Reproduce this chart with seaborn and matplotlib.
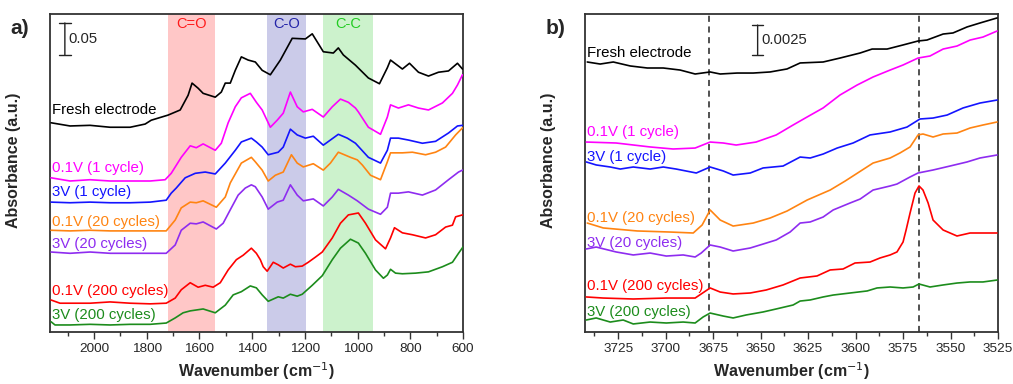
import matplotlib
matplotlib.use('Agg')
import pandas as pd
import matplotlib.pyplot as plt
import matplotlib.transforms as mtransforms
import seaborn as sns
from matplotlib.ticker import MultipleLocator

# ---------------- panel a) 2170-600 cm-1, stacked spectra in mAbs ----------------
fresh_a_wn = [2163, 2091, 2015, 1939, 1863, 1806, 1783, 1719, 1673, 1643, 1628, 1605, 1586, 1540, 1517,
              1502, 1483, 1464, 1441, 1415, 1388, 1362, 1331, 1293, 1248, 1198, 1172, 1130, 1092, 1073,
              1054, 1008, 959, 917, 887, 875, 830, 803, 769, 731, 693, 655, 621, 602]
fresh_a = [327, 322, 323, 320, 320, 325, 331, 339, 347, 370, 389, 381, 373, 367, 375,
           389, 389, 409, 430, 425, 422, 409, 402, 425, 459, 458, 466, 438, 436, 444,
           433, 417, 397, 388, 413, 425, 411, 420, 406, 400, 406, 408, 420, 411]

v01_1_a_wn = [2163, 2091, 2015, 1939, 1863, 1787, 1730, 1707, 1669, 1635, 1612, 1586, 1540, 1517, 1491,
              1464, 1441, 1407, 1384, 1362, 1331, 1305, 1282, 1255, 1229, 1206, 1172, 1130, 1096, 1065,
              1035, 1008, 997, 959, 913, 887, 875, 845, 807, 769, 731, 678, 640, 621, 602]
v01_1_a = [241, 236, 238, 236, 236, 236, 238, 248, 273, 291, 288, 294, 284, 295, 327,
           352, 366, 373, 359, 347, 320, 331, 342, 375, 352, 344, 348, 336, 352, 364,
           359, 350, 344, 320, 309, 336, 355, 350, 355, 350, 347, 358, 373, 386, 402]

v3_1_a_wn = [2163, 2091, 2015, 1939, 1863, 1787, 1726, 1707, 1688, 1669, 1654, 1616, 1578, 1540, 1502,
             1464, 1441, 1403, 1384, 1362, 1339, 1301, 1282, 1255, 1229, 1198, 1168, 1130, 1073, 1039,
             1008, 959, 913, 887, 875, 845, 807, 754, 704, 655, 621, 602]
v3_1_a = [203, 202, 203, 202, 202, 203, 206, 217, 225, 234, 241, 248, 250, 247, 264,
          284, 297, 303, 297, 289, 277, 281, 289, 317, 308, 303, 306, 292, 309, 303,
          295, 273, 264, 284, 303, 303, 300, 295, 298, 311, 322, 323]

v01_20_a_wn = [2163, 2091, 2015, 1939, 1863, 1787, 1726, 1692, 1669, 1635, 1612, 1586, 1536, 1502, 1483,
               1460, 1441, 1403, 1388, 1362, 1339, 1312, 1282, 1251, 1229, 1206, 1168, 1130, 1103, 1073,
               1027, 1001, 982, 951, 913, 887, 875, 830, 792, 742, 704, 666, 628, 602]
v01_20_a = [159, 158, 159, 158, 158, 158, 158, 175, 194, 203, 202, 205, 195, 211, 233,
            250, 264, 273, 266, 253, 236, 245, 250, 277, 264, 258, 263, 253, 264, 281,
            273, 269, 261, 245, 238, 266, 280, 280, 281, 277, 281, 289, 308, 319]

v3_20_a_wn = [2163, 2091, 2015, 1939, 1863, 1787, 1726, 1692, 1669, 1635, 1612, 1586, 1536, 1510, 1483,
              1453, 1426, 1403, 1388, 1362, 1339, 1305, 1282, 1255, 1229, 1206, 1168, 1130, 1096, 1073,
              1035, 1001, 959, 913, 887, 875, 845, 807, 754, 704, 655, 617, 602]
v3_20_a = [125, 123, 125, 123, 123, 123, 123, 136, 159, 170, 169, 172, 161, 170, 191,
           214, 225, 230, 227, 211, 192, 203, 206, 230, 214, 205, 208, 197, 211, 223,
           214, 205, 192, 184, 195, 217, 217, 219, 214, 222, 238, 250, 253]

v01_200_a_wn = [2163, 2129, 2015, 1939, 1863, 1787, 1726, 1692, 1669, 1635, 1605, 1578, 1548, 1521, 1491,
                1460, 1434, 1403, 1384, 1369, 1358, 1343, 1320, 1301, 1282, 1255, 1236, 1210, 1187, 1160,
                1134, 1096, 1065, 1035, 997, 970, 932, 894, 875, 860, 830, 792, 742, 704, 666, 640, 628, 602]
v01_200_a = [50, 45, 45, 47, 45, 44, 45, 53, 66, 77, 70, 73, 70, 77, 97,
             113, 120, 131, 123, 113, 102, 95, 109, 105, 100, 106, 102, 103, 109, 117,
             125, 147, 170, 183, 186, 170, 144, 130, 147, 163, 155, 152, 147, 152, 164, 167, 180, 183]

v3_200_a_wn = [2163, 2148, 2091, 2015, 1939, 1863, 1787, 1726, 1692, 1662, 1635, 1586, 1540, 1502, 1472,
               1441, 1407, 1384, 1362, 1339, 1301, 1282, 1255, 1229, 1210, 1172, 1134, 1096, 1065, 1027,
               997, 970, 932, 902, 887, 875, 856, 830, 780, 731, 678, 640, 617, 598]
v3_200_a = [16, 11, 11, 12, 11, 12, 12, 14, 22, 30, 33, 36, 30, 42, 58,
            63, 72, 69, 58, 48, 55, 53, 59, 56, 59, 73, 88, 113, 131, 145,
            139, 123, 97, 84, 89, 98, 92, 91, 92, 94, 102, 109, 123, 134]

# ---------------- panel b) 3745-3525 cm-1, stacked spectra in mAbs ----------------
fresh_b_wn = [3741.3, 3734.5, 3727.6, 3718.7, 3709.7, 3701.3, 3692.4, 3684.5, 3676.6, 3671.3,
              3662.4, 3653.9, 3645.0, 3636.1, 3629.2, 3617.1, 3608.2, 3597.6, 3591.3, 3583.4,
              3575.0, 3567.1, 3562.4, 3553.9, 3548.7, 3541.3, 3534.5, 3525.5]
fresh_b = [22.5, 22.33, 22.5, 22.17, 22.0, 22.0, 21.83, 21.5, 21.67, 21.5,
           21.58, 21.58, 21.67, 21.92, 22.42, 22.5, 22.83, 23.25, 23.58, 23.58,
           23.92, 24.25, 24.33, 24.83, 24.92, 25.42, 25.75, 26.17]

v01_1_b_wn = [3741.8, 3726.1, 3708.2, 3696.1, 3684.5, 3676.6, 3669.7, 3662.9, 3652.4, 3641.8,
              3632.9, 3625.5, 3617.1, 3608.2, 3599.2, 3590.8, 3581.8, 3575.0, 3567.1, 3560.8,
              3553.9, 3546.6, 3539.7, 3532.9, 3525.5]
v01_1_b = [15.83, 15.75, 15.42, 15.25, 15.33, 15.83, 15.75, 15.58, 15.83, 16.42,
           17.25, 17.92, 18.67, 19.75, 20.58, 21.25, 21.83, 22.25, 22.83, 23.0,
           23.58, 23.83, 24.33, 24.58, 25.08]

v3_1_b_wn = [3741.8, 3736.6, 3729.2, 3723.9, 3717.1, 3708.2, 3701.3, 3694.5, 3683.9, 3676.6,
             3669.7, 3664.5, 3655.5, 3648.7, 3638.2, 3629.2, 3623.9, 3617.1, 3609.7, 3601.3,
             3592.4, 3581.8, 3572.9, 3566.1, 3559.2, 3551.8, 3543.4, 3534.5, 3525.5]
v3_1_b = [14.17, 13.92, 13.75, 13.58, 13.75, 13.58, 13.75, 13.58, 13.25, 13.75,
          13.42, 13.08, 13.25, 13.67, 13.83, 14.58, 14.5, 14.83, 15.33, 15.75,
          16.42, 16.67, 17.08, 17.75, 17.83, 18.08, 18.67, 19.08, 19.33]

v01_20_b_wn = [3741.3, 3732.9, 3715.0, 3697.6, 3685.5, 3680.8, 3676.6, 3671.3, 3664.5, 3653.9,
               3645.0, 3636.1, 3625.5, 3613.4, 3605.5, 3590.8, 3581.8, 3576.6, 3571.3, 3567.1,
               3564.5, 3559.2, 3553.9, 3546.6, 3539.7, 3532.9, 3525.5]
v01_20_b = [9.08, 8.67, 8.42, 8.33, 8.25, 8.92, 10.17, 9.33, 8.83, 9.08,
            9.5, 10.08, 11.0, 11.83, 12.58, 14.08, 14.5, 14.92, 15.42, 16.42,
            16.5, 16.25, 16.5, 16.58, 17.0, 17.25, 17.5]

v3_20_b_wn = [3741.8, 3736.6, 3726.1, 3717.1, 3708.2, 3699.7, 3690.8, 3684.5, 3681.3, 3676.6,
              3671.3, 3664.5, 3655.5, 3648.7, 3641.8, 3634.5, 3629.2, 3623.9, 3617.1, 3611.8,
              3602.9, 3597.6, 3590.8, 3581.8, 3578.2, 3571.3, 3567.1, 3559.2, 3550.3, 3541.3,
              3534.5, 3525.5]
v3_20_b = [6.92, 7.08, 6.67, 6.42, 6.58, 6.33, 6.42, 6.25, 6.58, 7.25,
           7.08, 6.75, 7.0, 7.33, 7.67, 8.33, 9.08, 9.17, 9.58, 10.17,
           10.75, 11.08, 11.83, 12.17, 12.33, 12.92, 13.25, 13.5, 13.83, 14.17,
           14.5, 14.75]

v01_200_b_wn = [3741.8, 3732.9, 3717.1, 3699.7, 3684.5, 3681.3, 3676.6, 3671.3, 3664.5, 3655.5,
                3647.1, 3638.2, 3629.2, 3620.3, 3613.4, 3606.6, 3600.3, 3592.4, 3587.1, 3581.8,
                3578.2, 3575.0, 3573.4, 3571.3, 3568.7, 3566.6, 3564.5, 3561.8, 3559.2, 3553.9,
                3546.6, 3539.7, 3532.9, 3525.5]
v01_200_b = [2.92, 2.83, 2.75, 2.83, 2.83, 3.17, 3.67, 3.33, 3.17, 3.25,
             3.5, 3.92, 4.5, 4.67, 5.17, 5.25, 5.75, 5.83, 6.17, 6.42,
             6.67, 7.5, 8.5, 9.92, 11.58, 12.17, 11.83, 10.75, 9.33, 8.5,
             8.0, 8.25, 8.25, 8.25]

v3_200_b_wn = [3741.8, 3736.6, 3729.2, 3722.4, 3717.1, 3708.2, 3699.7, 3690.8, 3684.5, 3680.3,
               3676.6, 3669.7, 3664.5, 3657.6, 3648.7, 3641.8, 3632.9, 3629.2, 3623.9, 3617.1,
               3611.8, 3602.9, 3593.9, 3588.7, 3581.8, 3575.0, 3569.7, 3566.6, 3560.8, 3553.9,
               3546.6, 3539.7, 3532.9, 3525.5]
v3_200_b = [1.0, 1.17, 0.83, 1.0, 0.67, 0.83, 0.75, 0.83, 0.75, 1.25,
            1.58, 1.33, 1.17, 1.42, 1.67, 1.92, 2.25, 2.58, 2.67, 2.92,
            3.08, 3.25, 3.42, 3.67, 3.75, 3.67, 3.75, 4.0, 3.75, 3.92,
            4.08, 4.17, 4.17, 4.33]

labels = ['Fresh electrode', '0.1V (1 cycle)', '3V (1 cycle)', '0.1V (20 cycles)',
          '3V (20 cycles)', '0.1V (200 cycles)', '3V (200 cycles)']
colors = ['#000000', '#ff00ff', '#1414ff', '#ff8412', '#8e2cf0', '#ff0000', '#1c8c1c']

# where each label sits (data y) in the two panels
label_y_a = [347, 256, 219, 172, 138, 64, 27]
label_y_b = [23.25, 16.67, 14.58, 9.5, 7.42, 3.83, 1.67]

bands = [(1720, 1540, '#ff0000', 0.22, 'C=O', '#ff1a1a'),
         (1345, 1195, '#3333aa', 0.25, 'C-O', '#2424a8'),
         (1130, 940, '#00c000', 0.2, 'C-C', '#22cc22')]
dashed_b = [3677, 3566.5]

panel_a = [(fresh_a_wn, fresh_a), (v01_1_a_wn, v01_1_a), (v3_1_a_wn, v3_1_a), (v01_20_a_wn, v01_20_a),
           (v3_20_a_wn, v3_20_a), (v01_200_a_wn, v01_200_a), (v3_200_a_wn, v3_200_a)]
panel_b = [(fresh_b_wn, fresh_b), (v01_1_b_wn, v01_1_b), (v3_1_b_wn, v3_1_b), (v01_20_b_wn, v01_20_b),
           (v3_20_b_wn, v3_20_b), (v01_200_b_wn, v01_200_b), (v3_200_b_wn, v3_200_b)]


def long_df(panel):
    frames = []
    for lab, (wn, ab) in zip(labels, panel):
        frames.append(pd.DataFrame({'wn': wn, 'abs': ab, 'sample': lab}))
    return pd.concat(frames, ignore_index=True)


sns.set_theme(style='ticks')
plt.rcParams['font.family'] = ['Liberation Sans', 'DejaVu Sans']

fig = plt.figure(figsize=(10.13, 3.84), dpi=100)
ax_a = fig.add_axes([50 / 1013, 52 / 384, 413 / 1013, 318 / 384])
ax_b = fig.add_axes([585 / 1013, 52 / 384, 413 / 1013, 318 / 384])
palette = dict(zip(labels, colors))

for ax, panel, ly in [(ax_a, panel_a, label_y_a), (ax_b, panel_b, label_y_b)]:
    sns.lineplot(data=long_df(panel), x='wn', y='abs', hue='sample', palette=palette,
                 estimator=None, sort=False, legend=False, linewidth=1.2, ax=ax, zorder=3)
    trans = mtransforms.blended_transform_factory(ax.transAxes, ax.transData)
    for lab, col, y in zip(labels, colors, ly):
        ax.text(0.005, y, lab, transform=trans, color=col, fontsize=10.8, va='center', ha='left')
    ax.set_yticks([])
    ax.set_xlabel('Wavenumber (cm$^{-1}$)', fontsize=11.5, fontweight='bold')
    ax.set_ylabel('Absorbance (a.u.)', fontsize=11.5, fontweight='bold')
    ax.xaxis.set_label_coords(0.5, -0.09)
    ax.yaxis.set_label_coords(-0.07, 0.54)
    ax.tick_params(axis='x', which='major', length=5, width=1, labelsize=9.7, pad=3, color='#333333')
    ax.tick_params(axis='x', which='minor', length=3, width=1, color='#333333')
    for sp in ax.spines.values():
        sp.set_visible(True)
        sp.set_color('#333333')
        sp.set_linewidth(1.3)

# panel a extras
ax_a.set_xlim(2167, 600)
ax_a.set_ylim(0, 497)
ax_a.xaxis.set_major_locator(MultipleLocator(200))
ax_a.xaxis.set_minor_locator(MultipleLocator(100))
tr_a = mtransforms.blended_transform_factory(ax_a.transData, ax_a.transAxes)
for x0, x1, fc, al, txt, tc in bands:
    ax_a.axvspan(x0, x1, color=fc, alpha=al, lw=0, zorder=0)
    ax_a.text((x0 + x1) / 2, 0.969, txt, transform=tr_a, color=tc, fontsize=10.5,
              ha='center', va='center')
sb_a = mtransforms.blended_transform_factory(ax_a.transAxes, ax_a.transData)
ax_a.annotate('', xy=(0.036, 433), xytext=(0.036, 483), xycoords=sb_a, textcoords=sb_a,
              arrowprops=dict(arrowstyle='|-|, widthA=0.35, widthB=0.35', lw=1, color='#222222',
                              shrinkA=0, shrinkB=0))
ax_a.text(0.044, 458, '0.05', transform=sb_a, fontsize=10.7, va='center', ha='left')

# panel b extras
ax_b.set_xlim(3742.5, 3525)
ax_b.set_ylim(0, 26.5)
ax_b.xaxis.set_major_locator(MultipleLocator(25))
ax_b.xaxis.set_minor_locator(MultipleLocator(12.5))
for xd in dashed_b:
    ax_b.axvline(xd, color='#222222', lw=1.1, ls=(0, (4, 3)), zorder=2)
sb_b = mtransforms.blended_transform_factory(ax_b.transAxes, ax_b.transData)
ax_b.annotate('', xy=(0.418, 23.08), xytext=(0.418, 25.58), xycoords=sb_b, textcoords=sb_b,
              arrowprops=dict(arrowstyle='|-|, widthA=0.35, widthB=0.35', lw=1, color='#222222',
                              shrinkA=0, shrinkB=0))
ax_b.text(0.426, 24.3, '0.0025', transform=sb_b, fontsize=10.7, va='center', ha='left')

fig.text(20 / 1013, 1 - 29 / 384, 'a)', fontsize=15, fontweight='bold', ha='center', va='center')
fig.text(556 / 1013, 1 - 29 / 384, 'b)', fontsize=15, fontweight='bold', ha='center', va='center')

fig.savefig('out.png', dpi=100, facecolor='white')
